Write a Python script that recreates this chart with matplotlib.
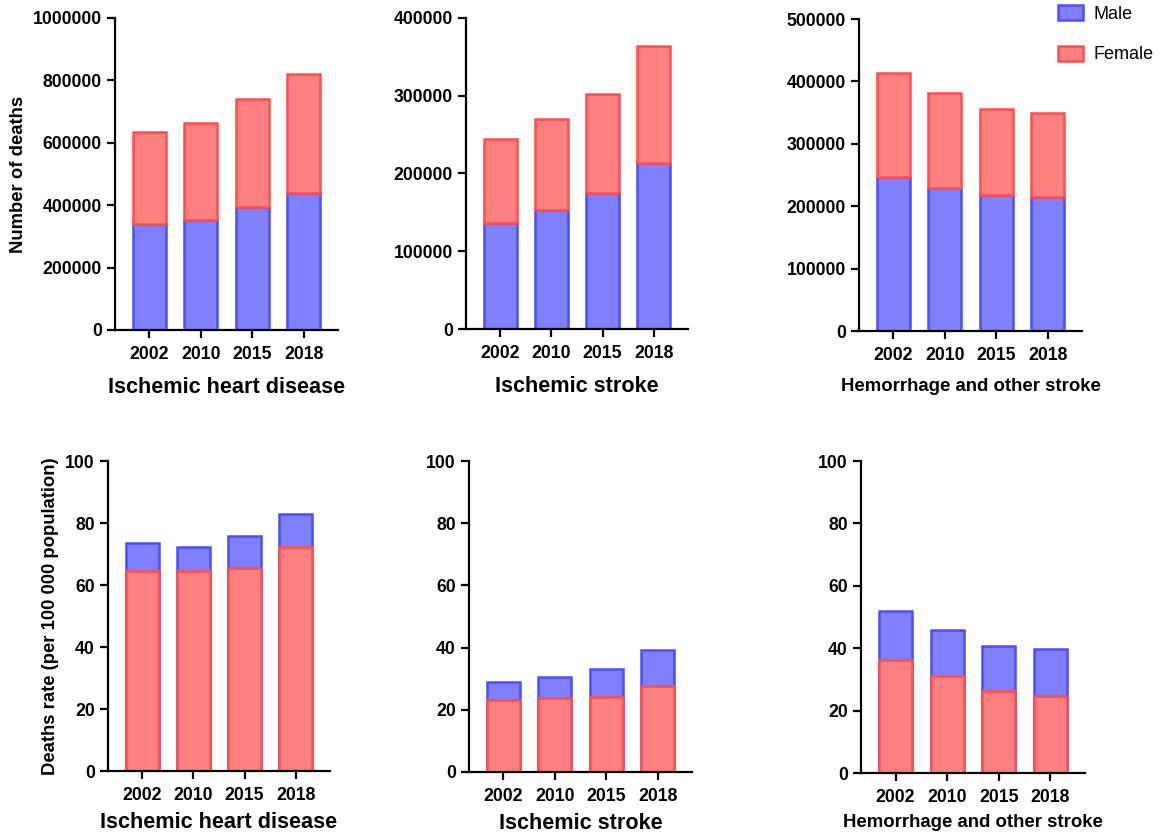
import matplotlib.pyplot as plt
import numpy as np

plt.rcParams['font.family'] = ['Liberation Sans', 'DejaVu Sans']

years = ["2002", "2010", "2015", "2018"]

# top row: number of deaths (stacked, male at bottom)
ihd_male = [340000, 352000, 395000, 438000]
ihd_female = [294000, 312000, 344000, 382000]
is_male = [136000, 152500, 175500, 213500]
is_female = [109000, 117500, 127000, 150000]
hs_male = [246000, 228500, 218000, 215000]
hs_female = [168000, 153500, 138000, 134000]

# bottom row: death rate per 100 000 (male bar behind, female in front)
ihd_rate_male = [73.5, 72.3, 75.8, 82.8]
ihd_rate_female = [64.5, 64.4, 65.6, 72.3]
is_rate_male = [28.8, 30.5, 33.1, 39.3]
is_rate_female = [23.2, 23.7, 24.1, 27.7]
hs_rate_male = [51.9, 45.7, 40.6, 39.9]
hs_rate_female = [36.1, 31.0, 26.2, 24.6]

titles = ["Ischemic heart disease", "Ischemic stroke", "Hemorrhage and other stroke"]

blue_fill, blue_edge = "#8080ff", "#4d4dff"
red_fill, red_edge = "#ff8080", "#ff4d4d"
barWidth = 0.64

W, H = 1173, 834
fig = plt.figure(figsize=(W / 100, H / 100), dpi=100)


def make_ax(left, top, right, bottom):
    return fig.add_axes([left / W, 1 - bottom / H, (right - left) / W, (bottom - top) / H])


def style(ax, ymax, step, label, label_size, pad):
    ax.set_xlim(-0.67, 3.67)
    ax.set_ylim(0, ymax)
    ax.set_yticks(np.arange(0, ymax + 1, step))
    ax.set_yticklabels([str(int(v)) for v in np.arange(0, ymax + 1, step)])
    ax.set_xticks(np.arange(len(years)))
    ax.set_xticklabels(years)
    for s in ["top", "right"]:
        ax.spines[s].set_visible(False)
    for s in ["left", "bottom"]:
        ax.spines[s].set_linewidth(1.6)
    ax.tick_params(width=1.6, length=6, labelsize=12.7)
    ax.tick_params(axis="x", pad=5.5)
    for t in ax.get_xticklabels() + ax.get_yticklabels():
        t.set_fontweight("bold")
    ax.set_xlabel(label, fontsize=label_size, fontweight="bold", labelpad=pad)


ind = np.arange(len(years))

top_axes = [make_ax(115, 18, 338, 330), make_ax(466, 18, 688, 329), make_ax(859, 19, 1082, 331)]
top_data = [(ihd_male, ihd_female, 1000000, 200000),
            (is_male, is_female, 400000, 100000),
            (hs_male, hs_female, 500000, 100000)]
label_sizes = [15.6, 15.6, 13.4]

for i, (ax, (m, f, ymax, step)) in enumerate(zip(top_axes, top_data)):
    ax.bar(ind, m, width=barWidth, color=blue_fill, edgecolor=blue_edge, linewidth=1.8, label="Male")
    ax.bar(ind, f, bottom=m, width=barWidth, color=red_fill, edgecolor=red_edge, linewidth=1.8, label="Female")
    style(ax, ymax, step, titles[i], label_sizes[i], 10)

top_axes[0].set_ylabel("Number of deaths", fontsize=13.3, fontweight="bold")
top_axes[0].yaxis.set_label_coords(-(115 - 27) / 223, 0.5)

bot_axes = [make_ax(108, 461, 330, 771), make_ax(469, 461, 692, 772), make_ax(861, 461, 1085, 773)]
bot_data = [(ihd_rate_male, ihd_rate_female),
            (is_rate_male, is_rate_female),
            (hs_rate_male, hs_rate_female)]

for i, (ax, (m, f)) in enumerate(zip(bot_axes, bot_data)):
    ax.bar(ind, m, width=barWidth, color=blue_fill, edgecolor=blue_edge, linewidth=1.8)
    ax.bar(ind, f, width=barWidth, color=red_fill, edgecolor=red_edge, linewidth=1.8)
    style(ax, 100, 20, titles[i], label_sizes[i], 6)

bot_axes[0].set_ylabel("Deaths rate (per 100 000 population)", fontsize=13.3, fontweight="bold")
bot_axes[0].yaxis.set_label_coords(-(108 - 59) / 222, 0.5)

handles, labels = top_axes[2].get_legend_handles_labels()
fig.legend(handles, labels, loc="upper left", bbox_to_anchor=(1042 / W, 1 + 11 / H),
           frameon=False, fontsize=13, handlelength=1.35, handleheight=0.9,
           labelspacing=1.25, handletextpad=0.6)

plt.savefig("out.png", dpi=100)
